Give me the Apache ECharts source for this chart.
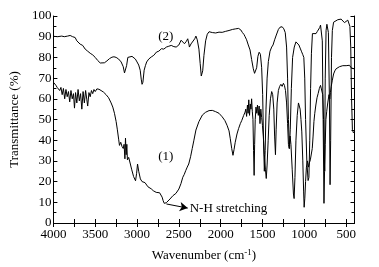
<!DOCTYPE html>
<html>
<head>
<meta charset="utf-8">
<script src="https://cdn.jsdelivr.net/npm/echarts@6/dist/echarts.min.js"></script>
<style>
  html, body { margin: 0; padding: 0; background: #fff; }
  #chart { width: 379px; height: 267px; }
</style>
</head>
<body>
<div id="chart"></div>
<script>
// curve (1) - wavenumber / transmittance
var wn1 = [4000,3985,3970,3955,3940,3925,3910,3895,3880,3865,3850,3835,3820,3805,3790,3775,3760,3748,3735,3720,3705,3690,3675,3660,3645,3630,3615,3600,3590,3575,3560,3545,3530,3515,3500,3480,3455,3430,3400,3370,3340,3310,3290,3270,3250,3235,3220,3210,3195,3180,3165,3155,3145,3138,3130,3122,3115,3100,3080,3065,3041,3018,3005,2994,2980,2960,2940,2924,2905,2888,2870,2853,2830,2806,2790,2771,2750,2730,2712,2700,2688,2675,2665,2650,2630,2606,2590,2571,2550,2535,2515,2500,2475,2453,2435,2418,2400,2382,2360,2340,2320,2296,2260,2218,2180,2139,2100,2061,2020,1982,1950,1924,1900,1885,1868,1853,1840,1826,1805,1786,1765,1747,1725,1708,1700,1690,1680,1672,1664,1655,1646,1638,1630,1622,1614,1607,1600,1594,1587,1578,1568,1560,1550,1540,1530,1520,1510,1500,1490,1478,1465,1455,1445,1432,1420,1405,1390,1378,1365,1355,1345,1337,1325,1310,1295,1280,1265,1250,1238,1225,1212,1200,1190,1180,1170,1160,1145,1130,1122,1112,1100,1085,1070,1060,1050,1040,1030,1018,1008,1002,994,985,975,962,950,940,928,915,905,895,885,875,862,848,835,820,806,792,780,770,762,756,750,742,732,720,705,695,688,678,665,650,635,620,600,580,560,540,520,500,480,460,440,425,410,400];
var tr1 = [68.0,67.5,66.5,65.5,66.0,64.0,65.5,62.0,65.0,60.0,64.5,61.0,63.5,58.5,64.0,60.0,62.5,55.5,63.0,58.0,64.5,59.0,62.5,55.0,63.5,58.0,64.0,59.5,56.5,63.0,61.0,64.0,62.5,64.5,63.5,64.8,64.6,64.0,63.2,62.0,60.5,58.0,56.0,53.0,49.0,45.0,40.5,37.5,39.0,37.0,36.0,38.0,31.0,41.0,33.0,38.0,30.5,31.7,28.5,26.0,22.4,20.4,24.0,28.5,25.0,21.3,20.0,19.2,19.5,18.8,17.5,17.2,16.5,15.6,15.0,14.8,14.0,14.6,14.3,12.5,10.8,9.5,8.7,9.8,10.5,11.6,12.2,13.2,13.5,14.3,15.0,16.4,19.0,22.1,23.5,25.3,27.0,28.5,32.0,36.0,40.0,44.9,49.0,52.2,53.5,54.3,54.4,53.8,53.0,51.3,49.5,47.2,44.5,40.7,36.0,32.7,35.5,39.0,43.0,45.6,48.0,49.6,52.0,53.6,55.0,51.5,57.0,53.0,59.5,52.0,57.5,55.0,60.0,54.0,50.0,35.0,23.0,38.0,50.0,56.0,53.0,57.0,52.0,56.5,48.0,55.0,51.0,47.0,42.0,33.0,26.0,21.5,28.0,40.0,52.0,60.0,63.5,62.0,55.0,42.0,33.0,45.0,58.0,64.0,66.0,67.0,66.0,67.5,66.5,64.0,58.0,48.0,38.0,36.0,42.0,38.0,26.0,14.0,11.8,22.0,40.0,52.0,58.0,58.6,55.0,50.0,44.0,30.0,15.0,7.6,12.0,20.0,27.0,30.0,27.0,29.0,30.5,31.0,36.0,42.0,49.0,53.0,57.0,60.5,62.5,65.0,66.5,66.0,62.0,50.0,32.0,25.0,38.0,50.0,54.0,58.0,62.0,60.0,63.0,66.0,69.0,72.0,73.5,74.5,75.0,75.5,75.2,76.0,75.5,76.0,75.5,76.2,75.0,75.8,74.5,75.0];

// curve (2)
var wn2 = [4000,3950,3900,3870,3850,3830,3815,3800,3785,3770,3755,3740,3720,3700,3680,3650,3620,3590,3560,3530,3500,3470,3440,3420,3390,3360,3330,3300,3276,3250,3220,3190,3165,3150,3140,3125,3110,3090,3060,3040,3020,3000,2980,2962,2950,2940,2930,2915,2900,2885,2860,2830,2800,2767,2740,2708,2680,2649,2620,2591,2560,2532,2500,2473,2450,2433,2410,2394,2380,2374,2355,2335,2310,2296,2280,2260,2245,2232,2226,2215,2200,2180,2160,2139,2100,2060,2020,1982,1940,1900,1860,1820,1786,1760,1740,1720,1708,1690,1670,1649,1630,1610,1595,1582,1570,1555,1540,1525,1510,1498,1488,1478,1468,1458,1445,1430,1410,1390,1374,1355,1335,1310,1290,1265,1245,1228,1212,1200,1190,1178,1168,1155,1140,1120,1100,1080,1065,1050,1035,1020,1006,995,985,970,955,945,935,925,915,903,880,860,845,830,815,806,795,785,775,765,758,750,740,730,722,712,700,692,685,675,665,650,630,600,580,560,540,520,500,480,465,455,445,435,425,412,400];
var tr2 = [90.2,90.0,90.3,90.0,90.5,90.3,91.0,90.6,91.0,90.0,89.3,89.6,88.0,87.2,86.4,85.8,84.0,83.0,82.0,81.2,80.0,78.5,77.3,77.1,77.4,78.3,79.4,80.1,80.3,80.0,79.2,77.8,75.5,72.5,72.2,76.0,80.0,80.8,80.5,80.2,79.2,77.8,76.3,73.8,69.5,67.0,68.0,73.8,76.0,77.8,79.2,80.2,81.0,82.6,83.0,84.2,84.0,85.0,85.4,85.8,85.2,85.0,86.0,88.3,87.5,86.6,87.8,89.0,86.5,85.0,86.5,87.4,89.0,90.3,88.5,84.0,77.0,71.0,70.4,73.5,81.0,88.0,91.2,92.4,92.0,91.8,92.2,92.1,92.6,93.0,93.5,93.8,94.0,93.3,92.0,91.0,90.0,88.5,86.0,83.6,79.0,74.5,72.3,72.0,75.0,80.5,82.5,81.5,75.0,62.0,40.0,25.0,35.0,55.0,70.0,78.0,83.0,85.0,86.0,88.5,90.8,93.5,94.6,94.8,93.8,92.0,85.0,70.0,50.0,36.0,45.0,65.0,80.0,85.0,87.5,88.4,86.0,84.5,83.0,81.5,80.0,70.0,50.0,30.0,20.5,22.0,40.0,65.0,82.0,91.5,92.0,91.5,92.5,93.0,94.5,95.6,95.0,88.0,50.0,9.5,25.0,70.0,93.0,96.0,96.5,92.0,60.0,18.5,40.0,80.0,93.0,97.0,97.5,98.2,97.5,98.5,97.6,96.8,97.5,98.0,97.5,95.0,85.0,60.0,45.0,43.5,44.0];

var xLabelValues = [500, 1000, 1500, 2000, 2500, 3000, 3500, 4000];
var xTickValues = [500, 750, 1000, 1250, 1500, 1750, 2000, 2250, 2500, 2750, 3000, 3250, 3500, 3750, 4000];

function pairs(x, y) {
  var out = [];
  for (var i = 0; i < x.length; i++) out.push([x[i], y[i]]);
  return out;
}

var chart = echarts.init(document.getElementById('chart'));
var font = 'Liberation Serif';

var xBase = {
  type: 'value', min: 400, max: 4000, inverse: true,
  axisLine: { show: true, lineStyle: { color: '#000', width: 1 } },
  axisTick: { show: true, inside: true, length: 4, customValues: xTickValues, lineStyle: { color: '#000' } },
  splitLine: { show: false }
};
var yBase = {
  type: 'value', min: 0, max: 100, interval: 10,
  axisLine: { show: true, lineStyle: { color: '#000', width: 1 } },
  axisTick: { show: true, inside: true, length: 4, lineStyle: { color: '#000' } },
  minorTick: { show: true, splitNumber: 2, length: 3, lineStyle: { color: '#000' } },
  splitLine: { show: false }
};

chart.setOption({
  animation: false,
  backgroundColor: '#fff',
  grid: { left: 48.5, right: 24.5, top: 16, bottom: 44 },
  xAxis: [
    Object.assign({}, xBase, {
      position: 'bottom',
      name: 'Wavenumber (cm{sup|-1})',
      nameLocation: 'middle',
      nameGap: 25,
      nameTextStyle: {
        fontFamily: font, fontSize: 13, color: '#000',
        rich: { sup: { fontFamily: font, fontSize: 9, color: '#000', verticalAlign: 'top', padding: [0, 0, 6, 0] } }
      },
      axisLabel: {
        show: true, customValues: xLabelValues, margin: 5,
        fontFamily: font, fontSize: 13, color: '#000',
        formatter: function (v) { return String(v); }
      }
    }),
    Object.assign({}, xBase, { position: 'top', axisLabel: { show: false } })
  ],
  yAxis: [
    Object.assign({}, yBase, {
      position: 'left',
      name: 'Transmittance (%)',
      nameLocation: 'middle',
      nameGap: 25,
      nameTextStyle: { fontFamily: font, fontSize: 13, color: '#000' },
      axisLabel: { show: true, margin: 2, fontFamily: font, fontSize: 13, color: '#000' }
    }),
    Object.assign({}, yBase, { position: 'right', axisLabel: { show: false } })
  ],
  series: [
    {
      name: '(1)', type: 'line', xAxisIndex: 0, yAxisIndex: 0,
      data: pairs(wn1, tr1), showSymbol: false,
      lineStyle: { color: '#000', width: 1 },
      markPoint: {
        symbol: 'circle', symbolSize: 0,
        label: { show: true, position: 'inside', formatter: '(1)', fontFamily: font, fontSize: 13, color: '#000' },
        data: [{ coord: [2657, 31.9] }]
      },
      markLine: {
        silent: true,
        symbolSize: [7, 8],
        lineStyle: { color: '#000', width: 1, type: 'solid' },
        label: { show: true, position: 'end', distance: 2, formatter: 'N-H stretching', fontFamily: font, fontSize: 13, color: '#000' },
        data: [[{ coord: [2649, 9.2], symbol: 'none' }, { coord: [2394, 7.2], symbol: 'arrow' }]]
      }
    },
    {
      name: '(2)', type: 'line', xAxisIndex: 0, yAxisIndex: 0,
      data: pairs(wn2, tr2), showSymbol: false,
      lineStyle: { color: '#000', width: 1 },
      markPoint: {
        symbol: 'circle', symbolSize: 0,
        label: { show: true, position: 'inside', formatter: '(2)', fontFamily: font, fontSize: 13, color: '#000' },
        data: [{ coord: [2657, 89.9] }]
      }
    }
  ]
});
</script>
</body>
</html>
